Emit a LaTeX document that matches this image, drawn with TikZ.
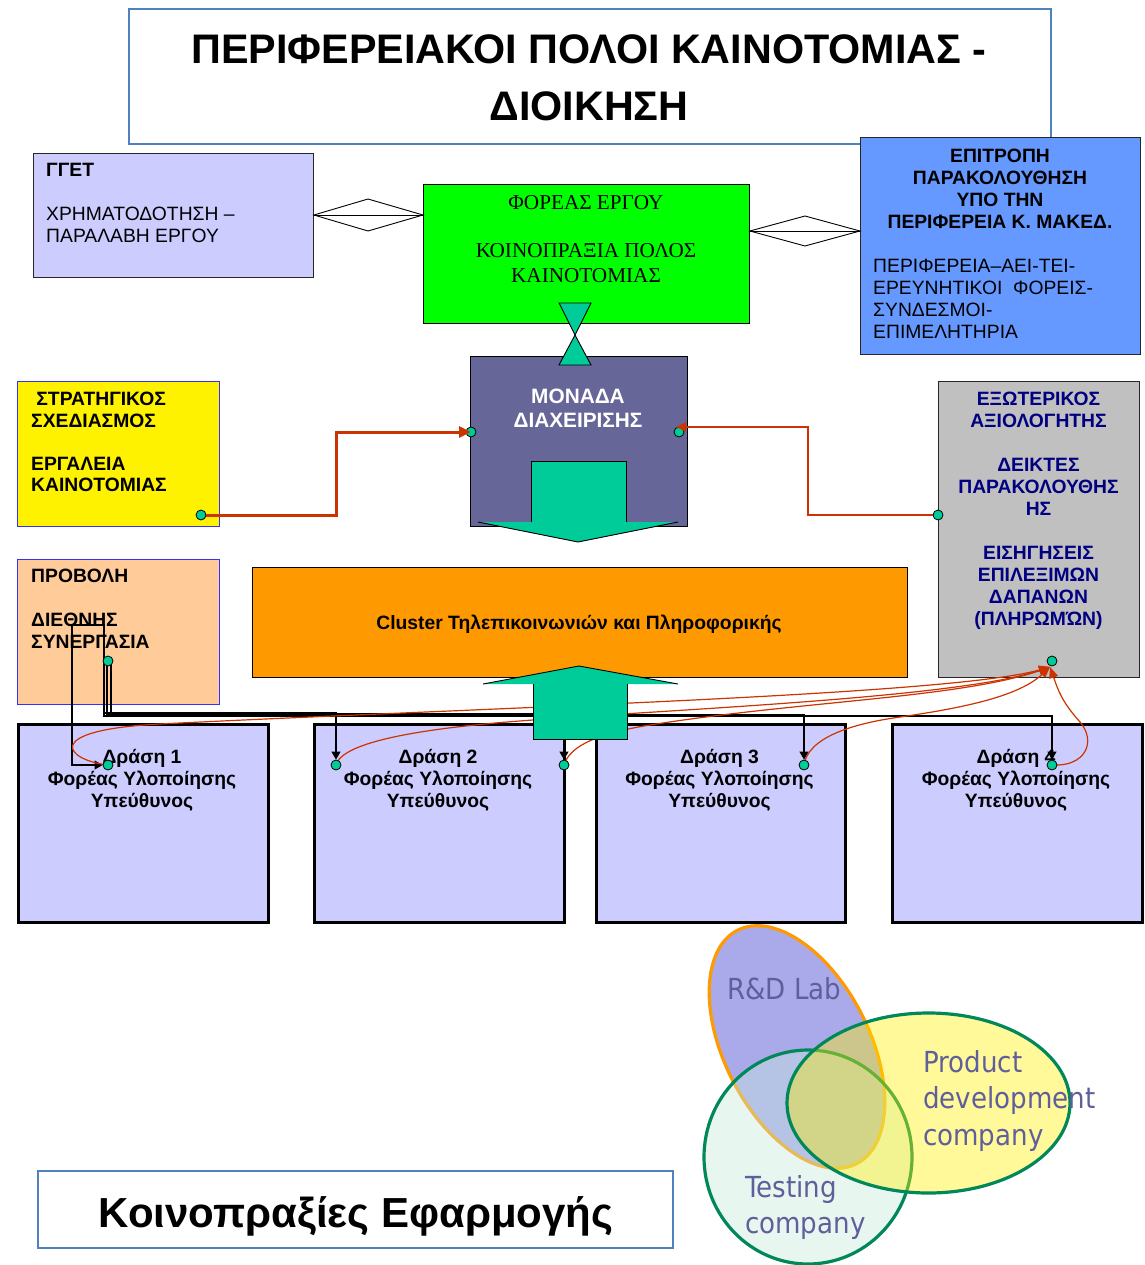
\documentclass[tikz,border=0pt]{standalone}
\usepackage{fontspec}
\setmainfont{Liberation Sans}
\newfontfamily\serifgr{Liberation Serif}
\newfontfamily\vennfont[FakeStretch=0.9]{DejaVu Sans}
\usetikzlibrary{arrows.meta}
\definecolor{tealc}{HTML}{00CC99}
\definecolor{lav}{HTML}{CCCCFF}
\definecolor{greenbox}{HTML}{00FF00}
\definecolor{bluebox}{HTML}{6699FF}
\definecolor{monbox}{HTML}{666699}
\definecolor{peach}{HTML}{FFCC99}
\definecolor{orangebox}{HTML}{FF9900}
\definecolor{greybox}{HTML}{C0C0C0}
\definecolor{navytxt}{HTML}{000080}
\definecolor{redc}{HTML}{CC3300}
\definecolor{steel}{HTML}{4F81BD}
\definecolor{bluedge}{HTML}{3333FF}
\definecolor{rdfill}{HTML}{AAAAEB}
\definecolor{vennorange}{HTML}{FF9900}
\definecolor{venngreen}{HTML}{00875A}
\definecolor{testfill}{RGB}{198,233,218}
\definecolor{venntxt}{HTML}{5F5F9B}
\pgfdeclarelayer{bg}
\pgfdeclarelayer{lines}
\pgfsetlayers{bg,lines,main}
\tikzset{
  box/.style={draw=black!85, line width=0.9pt, inner sep=0pt, anchor=north west},
  actbox/.style={draw=black, line width=2.5pt, fill=lav, inner sep=0pt, anchor=north west, minimum height=198pt},
  txt/.style={inner sep=0pt, font=\fontsize{19.3}{22}\selectfont},
  btxt/.style={inner sep=0pt, font=\fontsize{19.3}{22}\selectfont\bfseries},
  dot/.style={circle, draw=black, line width=0.8pt, fill=tealc, minimum size=10pt, inner sep=0pt},
  blk/.style={draw=black, line width=1.1pt, line join=miter, -{Triangle[length=8pt,width=9pt]}},
  redcurve/.style={draw=redc, line width=1.2pt, -{Triangle[length=11pt,width=9pt]}},
  shapeline/.style={draw=black, line width=0.9pt, line join=miter},
  diam/.style={draw=black, fill=white, line width=0.9pt},
  venntext/.style={inner sep=0pt, text=venntxt, font=\vennfont\fontsize{29}{36.5}\selectfont, align=left}
}
\begin{document}
\begin{tikzpicture}[x=1pt, y=-1pt]
\useasboundingbox (0,0) rectangle (1144,1265);
\begin{pgfonlayer}{bg}
\fill[white] (0,0) rectangle (1144,1265);
% title
\node[box, draw=steel, line width=2pt, fill=white, minimum width=922pt, minimum height=135pt] (title) at (128,8) {};
\node[inner sep=0pt, anchor=north, align=center, font=\fontsize{41.3}{57}\selectfont\bfseries] (titlet) at (589,34.4) {ΠΕΡΙΦΕΡΕΙΑΚΟΙ ΠΟΛΟΙ ΚΑΙΝΟΤΟΜΙΑΣ -\\ΔΙΟΙΚΗΣΗ};
% GGET
\node[box, fill=lav, minimum width=280pt, minimum height=124pt] (gget) at (33,153) {};
\node[txt, anchor=north west, align=left] (ggett) at (46,163.2) {\textbf{ΓΓΕΤ}\\[22pt]ΧΡΗΜΑΤΟΔΟΤΗΣΗ –\\ΠΑΡΑΛΑΒΗ ΕΡΓΟΥ};
% Foreas
\node[box, draw=black, fill=greenbox, minimum width=326pt, minimum height=139pt] (foreas) at (423,184) {};
\node[inner sep=0pt, anchor=north, align=center, font=\serifgr\fontsize{21.2}{25}\selectfont] (foreast) at (586,195) {ΦΟΡΕΑΣ ΕΡΓΟΥ\\[23pt]ΚΟΙΝΟΠΡΑΞΙΑ ΠΟΛΟΣ\\ΚΑΙΝΟΤΟΜΙΑΣ};
% Epitropi
\node[box, fill=bluebox, minimum width=280pt, minimum height=217pt] (epit) at (860,137) {};
\node[btxt, anchor=north, align=center] (epitt) at (1000,149.2) {ΕΠΙΤΡΟΠΗ\\ΠΑΡΑΚΟΛΟΥΘΗΣΗ\\ΥΠΟ ΤΗΝ\\ΠΕΡΙΦΕΡΕΙΑ Κ. ΜΑΚΕΔ.};
\node[txt, anchor=north west, align=left] (epitt2) at (873,259.2) {ΠΕΡΙΦΕΡΕΙΑ–ΑΕΙ-ΤΕΙ-\\ΕΡΕΥΝΗΤΙΚΟΙ\ \ ΦΟΡΕΙΣ-\\ΣΥΝΔΕΣΜΟΙ-\\ΕΠΙΜΕΛΗΤΗΡΙΑ};
% Strategic
\node[box, draw=bluedge, fill=yellow, minimum width=202pt, minimum height=145pt] (strat) at (17,381) {};
\node[inner sep=0pt, anchor=north west, align=left, font=\fontsize{19.3}{21.5}\selectfont\bfseries] (stratt) at (31,392.2) {\hspace*{5.2pt}ΣΤΡΑΤΗΓΙΚΟΣ\\ΣΧΕΔΙΑΣΜΟΣ\\[21.5pt]ΕΡΓΑΛΕΙΑ\\ΚΑΙΝΟΤΟΜΙΑΣ};
% Monada
\node[box, draw=black, fill=monbox, minimum width=217pt, minimum height=170pt] (monada) at (470,356) {};
\node[inner sep=0pt, anchor=north, align=center, text=white, font=\fontsize{20.8}{24}\selectfont\bfseries] (monadat) at (578,388.5) {ΜΟΝΑΔΑ\\ΔΙΑΧΕΙΡΙΣΗΣ};
% Exoterikos
\node[box, fill=greybox, minimum width=201pt, minimum height=296pt] (exot) at (938,381) {};
\node[btxt, anchor=north, align=center, text=navytxt] (exott) at (1038.5,392.2) {ΕΞΩΤΕΡΙΚΟΣ\\ΑΞΙΟΛΟΓΗΤΗΣ\\[22pt]ΔΕΙΚΤΕΣ\\ΠΑΡΑΚΟΛΟΥΘΗΣ\\ΗΣ\\[22pt]ΕΙΣΗΓΗΣΕΙΣ\\ΕΠΙΛΕΞΙΜΩΝ\\ΔΑΠΑΝΩΝ\\(ΠΛΗΡΩΜΏΝ)};
% Provoli
\node[box, draw=bluedge, fill=peach, minimum width=202pt, minimum height=145pt] (provoli) at (17,559) {};
\node[btxt, anchor=north west, align=left] (provolit) at (31,569.2) {ΠΡΟΒΟΛΗ\\[22pt]ΔΙΕΘΝΗΣ\\ΣΥΝΕΡΓΑΣΙΑ};
% Cluster
\node[box, draw=black, fill=orangebox, minimum width=655pt, minimum height=110pt] (cluster) at (252,567) {};
\node[btxt, anchor=base] (clustert) at (579,629) {Cluster Τηλεπικοινωνιών και Πληροφορικής};
% Actions
\node[actbox, minimum width=250pt] (a1) at (17,723) {};
\node[actbox, minimum width=250pt] (a2) at (313,723) {};
\node[actbox, minimum width=249pt] (a3) at (595,723) {};
\node[actbox, minimum width=250pt] (a4) at (891,723) {};
\node[btxt, anchor=north, align=center] (a1t) at (142,749.2) {Δράση 1\\Φορέας Υλοποίησης\\Υπεύθυνος};
\node[btxt, anchor=north, align=center] (a2t) at (438,749.2) {Δράση 2\\Φορέας Υλοποίησης\\Υπεύθυνος};
\node[btxt, anchor=north, align=center] (a3t) at (719.5,749.2) {Δράση 3\\Φορέας Υλοποίησης\\Υπεύθυνος};
\node[btxt, anchor=north, align=center] (a4t) at (1016,749.2) {Δράση 4\\Φορέας Υλοποίησης\\Υπεύθυνος};
\end{pgfonlayer}

% diamonds
\draw[diam] (gget.east |- 0,215) -- (368,199) -- (foreas.west |- 0,215) -- (368,231) -- cycle;
\draw[shapeline] (gget.east |- 0,215) -- (foreas.west |- 0,215);
\draw[diam] (foreas.east |- 0,231) -- (805,216) -- (epit.west |- 0,231) -- (805,246) -- cycle;
\draw[shapeline] (foreas.east |- 0,231) -- (epit.west |- 0,231);

% hourglass
\draw[shapeline, fill=tealc] (559,303) -- (591,303) -- (575,335) -- cycle;
\draw[shapeline, fill=tealc] (559,365) -- (591,365) -- (575,335) -- cycle;

% down arrow in Monada
\fill[tealc] (531,461) -- (626,461) -- (626,522) -- (678,522) -- (578,542) -- (478,522) -- (531,522) -- cycle;
\draw[shapeline] (531,522) -- (531,461) -- (626,461) -- (626,522);
\draw[shapeline] (478,522) -- (578,542) -- (678,522);

% dots
\node[dot] (sdot) at (201,515) {};
\node[dot] (mdotL) at (471,432) {};
\node[dot] (mdotR) at (679,432) {};
\node[dot] (exdotL) at (938,515) {};
\node[dot] (exdotB) at (1052,661) {};
\node[dot] (pdot) at (108,661) {};
\node[dot] (d1) at (108,765) {};
\node[dot] (d2L) at (336,765) {};
\node[dot] (d2R) at (564,765) {};
\node[dot] (d3) at (804,765) {};
\node[dot] (d4) at (1052,765) {};
\coordinate (extip) at (1050,667);
\coordinate (mtipR) at (676,427);

% black elbow connectors and red curves (under the up arrow)
\begin{pgfonlayer}{lines}
\draw[blk] (pdot.center) -- (104,661) -- (104,625) -- (72,625) -- (72,765) -- (d1.west);
\draw[blk] (pdot.center) -- (104,661) -- (104,713) -- (336,713) -- (d2L.north);
\draw[blk] (pdot.center) -- (107,661) -- (107,714) -- (564,714) -- (d2R.north);
\draw[blk] (pdot.center) -- (111,661) -- (111,715) -- (804,715) -- (d3.north);
\draw[blk] (pdot.center) -- (104,661) -- (104,716) -- (1052,716) -- (d4.north);
\draw[redcurve] (d1.center) .. controls (65,760) and (40,730) .. (160,724) .. controls (500,707) and (950,695) .. (extip);
\draw[redcurve] (d2L.center) .. controls (342,742) and (420,728) .. (533,720) .. controls (700,708) and (960,697) .. (extip);
\draw[redcurve] (d2R.center) .. controls (570,745) and (600,733) .. (650,725) .. controls (800,701) and (960,698) .. (extip);
\draw[redcurve] (d3.center) .. controls (808,738) and (850,724) .. (900,717) .. controls (970,707) and (1020,695) .. (extip);
\draw[redcurve] (d4.center) .. controls (1085,767) and (1097,742) .. (1080,722) .. controls (1062,702) and (1058,690) .. (extip);
\end{pgfonlayer}

% up arrow into cluster
\fill[tealc] (579,666) -- (678,684) -- (627,684) -- (627,739) -- (533,739) -- (533,684) -- (483,684) -- cycle;
\draw[shapeline] (483,684) -- (579,666) -- (678,684);
\draw[shapeline] (627,684) -- (627,739) -- (533,739) -- (533,684);

% red top connectors
\draw[draw=redc, line width=3pt, line join=miter, -{Triangle[length=12pt,width=11pt]}] (sdot.east) -- (336,515) -- (336,432) -- (mdotL.center);
\draw[draw=redc, line width=1.6pt, line join=miter, -{Triangle[length=10pt,width=9pt]}] (exdotL.west) -- (808,515) -- (808,427) -- (mtipR);

% Venn diagram
\draw[vennorange, line width=3.2pt, fill=rdfill, rotate around={117:(797,1047)}] (797,1047) ellipse [x radius=131pt, y radius=72.5pt];
\draw[venngreen, line width=3.2pt, fill=testfill, fill opacity=0.4] (808,1157) ellipse [x radius=104pt, y radius=107pt];
\draw[venngreen, line width=3.2pt, fill=yellow, fill opacity=0.4] (928.5,1103) ellipse [x radius=141.5pt, y radius=90pt];
\node[venntext, anchor=base west] (rdt) at (727,999) {R\&D Lab};
\node[venntext, anchor=north west] (prodt) at (923,1050) {Product\\development\\company};
\node[venntext, anchor=north west] (testt) at (745,1175) {Testing\\company};

% bottom box
\node[box, draw=steel, line width=2pt, fill=white, minimum width=635pt, minimum height=77pt] (koin) at (37,1170) {};
\node[inner sep=0pt, anchor=base, font=\fontsize{42}{48}\selectfont\bfseries] (koint) at (356,1227) {Κοινοπραξίες Εφαρμογής};
\end{tikzpicture}
\end{document}
